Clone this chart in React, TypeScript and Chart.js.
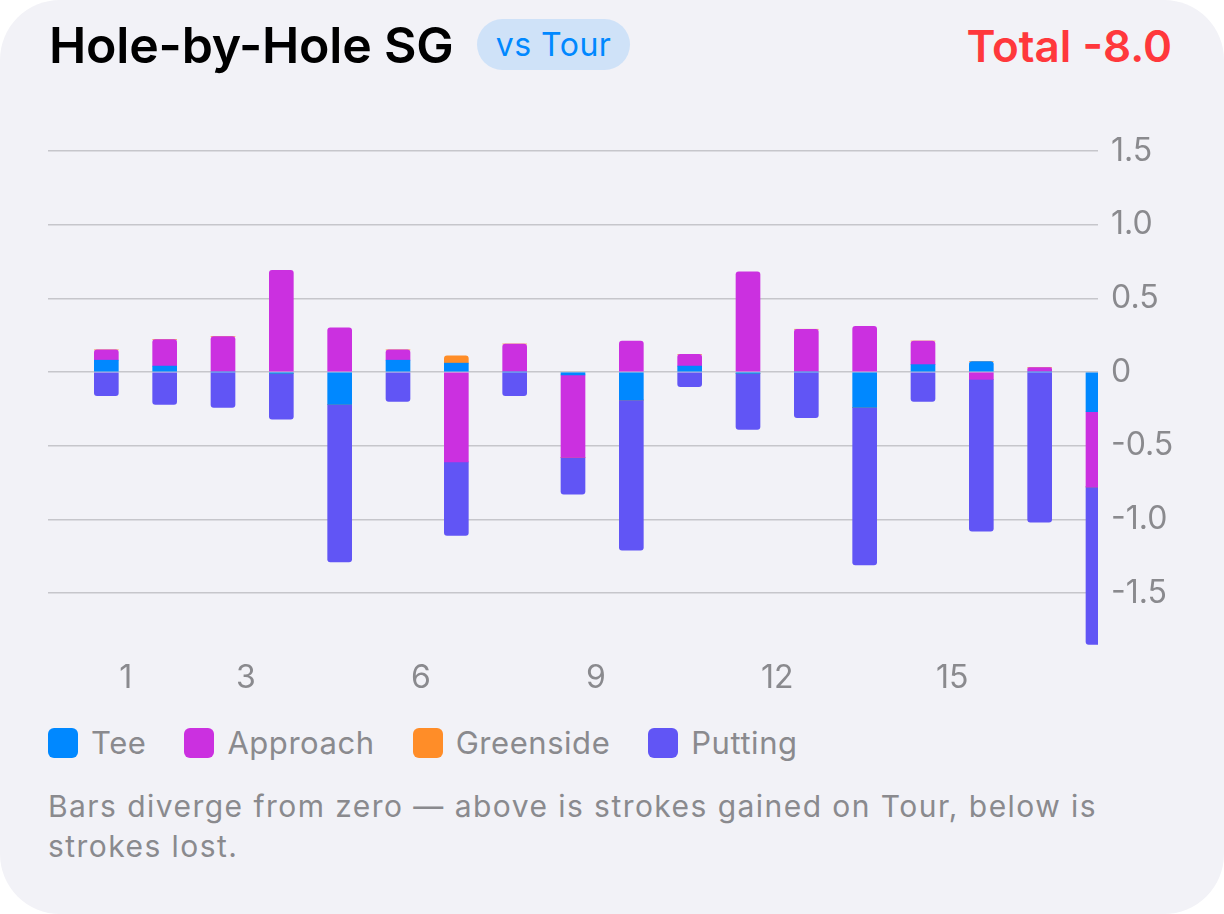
import React, { useEffect, useRef } from "react";
import { Chart, registerables } from "chart.js";

Chart.register(...registerables);

// ---- Data ----
const holes = [1, 2, 3, 4, 5, 6, 7, 8, 9, 10, 11, 12, 13, 14, 15, 16, 17, 18];
const teeSG = [0.08, 0.04, 0, -0.01, -0.22, 0.08, 0.06, 0, -0.02, -0.19, 0.04, -0.01, 0, -0.24, 0.05, 0.07, 0, -0.27];
const approachSG = [0.07, 0.18, 0.24, 0.69, 0.3, 0.07, -0.61, 0.19, -0.56, 0.21, 0.08, 0.68, 0.29, 0.31, 0.16, -0.05, 0.03, -0.51];
const greensideSG = [0, 0, 0, 0, 0, 0, 0.05, 0, 0, 0, 0, 0, 0, 0, 0, 0, 0, 0];
const puttingSG = [-0.16, -0.22, -0.24, -0.31, -1.07, -0.2, -0.5, -0.16, -0.25, -1.02, -0.1, -0.38, -0.31, -1.07, -0.2, -1.03, -1.02, -1.07];
const seriesNames = ["Tee", "Approach", "Greenside", "Putting"];
const seriesColors = ["#0088FF", "#CB30E0", "#FF8D28", "#6155F5"];
const xTickValues = [1, 3, 6, 9, 12, 15];
const yTickValues = [-1.5, -1, -0.5, 0, 0.5, 1, 1.5];
const yTickLabels = ["-1.5", "-1.0", "-0.5", "0", "0.5", "1.0", "1.5"];
const titleText = "Hole-by-Hole SG";
const badgeText = "vs Tour";
const totalText = "Total -8.0";
const captionLines = ["Bars diverge from zero \u2014 above is strokes gained on Tour, below is", "strokes lost."];

const allSeries = [teeSG, approachSG, greensideSG, puttingSG];

const FONT = "Inter, 'Noto Sans', sans-serif";
const GRAY = "#8A8A8E";
const GRID = "#C6C6CB";

function radiusFor(ctx: any) {
  const d = ctx.datasetIndex;
  const i = ctx.dataIndex;
  const v = allSeries[d][i];
  if (!v) return 0;
  for (let k = d + 1; k < allSeries.length; k++) {
    const w = allSeries[k][i];
    if (w && Math.sign(w) === Math.sign(v)) return 0;
  }
  return 3;
}

export default function App() {
  const ref = useRef<HTMLCanvasElement>(null);

  useEffect(() => {
    const chart = new Chart(ref.current as HTMLCanvasElement, {
      type: "bar",
      data: {
        datasets: allSeries.map((s, k) => ({
          label: seriesNames[k],
          data: holes.map((h, i) => ({ x: h, y: s[i] })),
          backgroundColor: seriesColors[k],
          barThickness: 24,
          borderRadius: radiusFor,
          borderSkipped: "start",
          stack: "sg",
        })),
      } as any,
      options: {
        responsive: false,
        animation: false,
        events: [],
        layout: { padding: { left: 48, top: 51, right: 0, bottom: 0 } },
        plugins: { legend: { display: false }, tooltip: { enabled: false } },
        scales: {
          x: {
            type: "linear",
            min: 0,
            max: 18,
            offset: false,
            stacked: true,
            grid: { display: false },
            border: { display: false },
            afterBuildTicks: (s: any) => {
              s.ticks = xTickValues.map((v) => ({ value: v }));
            },
            afterFit: (s: any) => {
              s.height = 54;
            },
            ticks: {
              align: "start",
              labelOffset: 13,
              padding: 5,
              color: GRAY,
              font: { family: FONT, size: 32 },
              maxRotation: 0,
              autoSkip: false,
              callback: (v: any) => String(v),
            },
          },
          y: {
            position: "right",
            min: -1.86,
            max: 1.5,
            stacked: true,
            grid: { color: GRID, lineWidth: 1.5, drawTicks: false },
            border: { display: false },
            afterBuildTicks: (s: any) => {
              s.ticks = yTickValues.map((v) => ({ value: v }));
            },
            afterFit: (s: any) => {
              s.width = 126;
            },
            ticks: {
              padding: 13,
              color: GRAY,
              font: { family: FONT, size: 32 },
              callback: (v: any) => {
                const idx = yTickValues.indexOf(v);
                return idx >= 0 ? yTickLabels[idx] : "";
              },
            },
          },
        },
      } as any,
    });
    return () => chart.destroy();
  }, []);

  return (
    <div
      style={{
        position: "absolute",
        left: 0,
        top: 0,
        width: 1224,
        height: 914,
        borderRadius: 60,
        background: "#F2F2F7",
        overflow: "hidden",
        fontFamily: FONT,
      }}
    >
      <div
        style={{
          position: "absolute",
          left: 49,
          top: 20,
          fontSize: 50,
          lineHeight: "50px",
          fontWeight: 600,
          color: "#000",
          whiteSpace: "nowrap",
          letterSpacing: -0.2,
        }}
      >
        {titleText}
      </div>
      <div
        style={{
          position: "absolute",
          left: 477,
          top: 19,
          width: 153,
          height: 51,
          borderRadius: 26,
          background: "#CFE2F8",
          color: "#0088FF",
          fontSize: 32,
          display: "flex",
          alignItems: "center",
          justifyContent: "center",
          whiteSpace: "nowrap",
          letterSpacing: 0.5,
        }}
      >
        {badgeText}
      </div>
      <div
        style={{
          position: "absolute",
          right: 52,
          top: 24,
          fontSize: 44,
          lineHeight: "44px",
          fontWeight: 600,
          color: "#FF383C",
          whiteSpace: "nowrap",
        }}
      >
        {totalText}
      </div>
      <canvas
        ref={ref}
        width={1224}
        height={600}
        style={{ position: "absolute", left: 0, top: 100, width: 1224, height: 600 }}
      />
      <div
        style={{
          position: "absolute",
          left: 48,
          top: 728,
          height: 30,
          display: "flex",
          alignItems: "center",
          gap: 38,
        }}
      >
        {seriesNames.map((n, k) => (
          <div key={n} style={{ display: "flex", alignItems: "center" }}>
            <div
              style={{
                width: 30,
                height: 30,
                borderRadius: 6,
                background: seriesColors[k],
                marginRight: 13,
              }}
            />
            <span
              style={{ fontSize: 31, color: GRAY, whiteSpace: "nowrap", lineHeight: "30px", letterSpacing: 0.55 }}
            >
              {n}
            </span>
          </div>
        ))}
      </div>
      <div
        style={{
          position: "absolute",
          left: 48,
          top: 786,
          fontSize: 30,
          lineHeight: "40px",
          color: GRAY,
          letterSpacing: 1.45,
          whiteSpace: "nowrap",
        }}
      >
        {captionLines[0]}
        <br />
        {captionLines[1]}
      </div>
    </div>
  );
}
